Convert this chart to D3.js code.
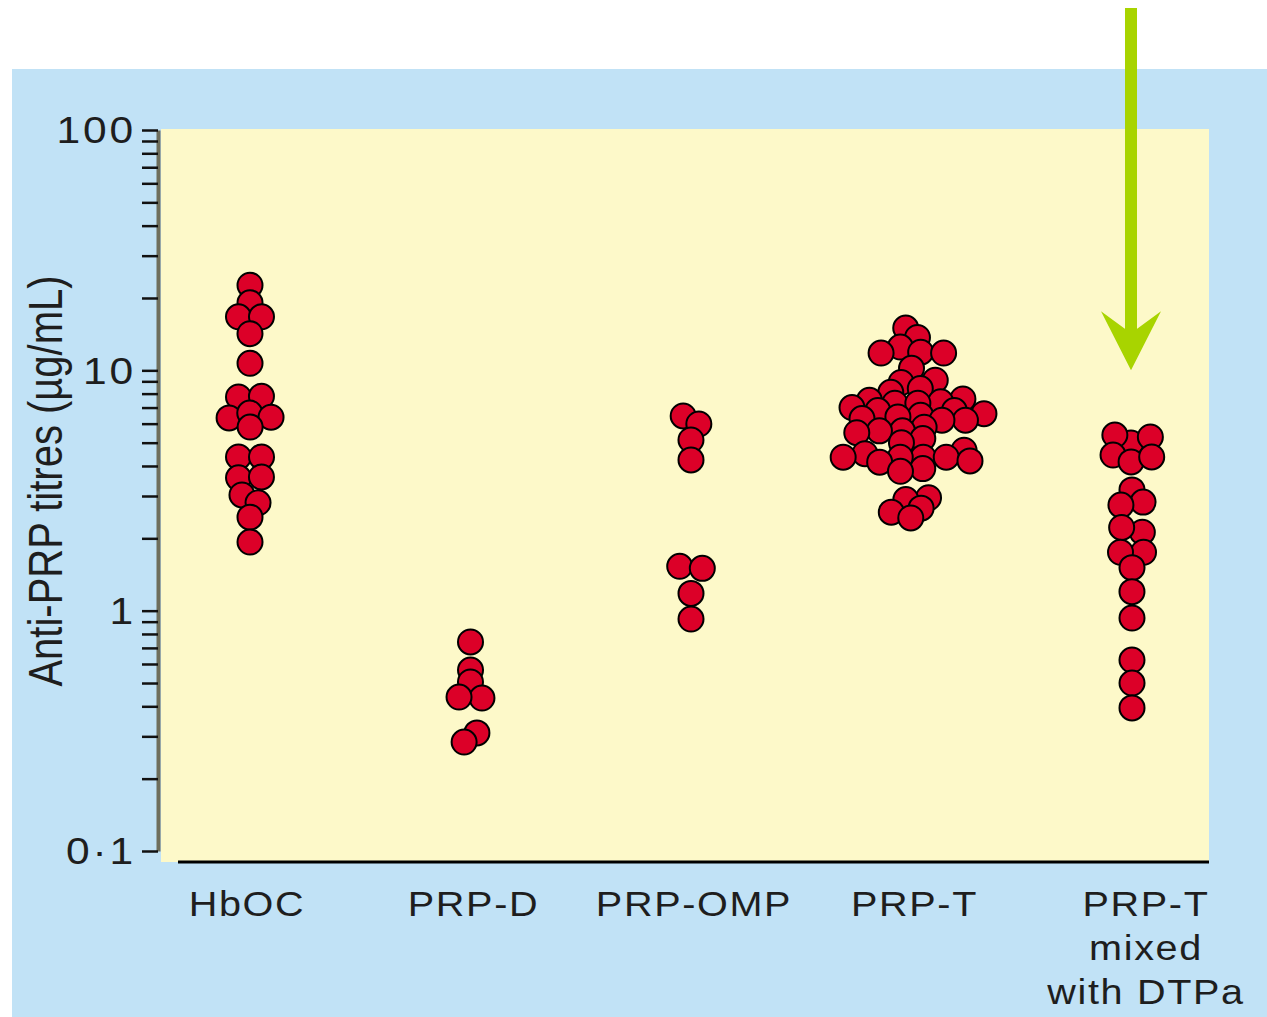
<!DOCTYPE html>
<html><head><meta charset="utf-8">
<script src="https://cdn.jsdelivr.net/npm/d3@7"></script>
<style>body{margin:0;background:#fff}svg{display:block}text{font-family:"Liberation Sans",Arial,sans-serif;fill:#1e1e1e}</style>
</head><body>
<svg id="c" width="1267" height="1017"></svg>
<script>
// ---- data ----
const categories = ["HbOC", "PRP-D", "PRP-OMP", "PRP-T", "PRP-T mixed with DTPa"];
const categoryLabelLines = [["HbOC"], ["PRP-D"], ["PRP-OMP"], ["PRP-T"], ["PRP-T", "mixed", "with DTPa"]];
const hbocValues = [22.6, 19.1, 16.7, 16.7, 14.2, 10.7, 7.75, 7.8, 6.34, 6.64, 6.38, 5.81, 4.36, 4.36, 3.57, 3.6, 3.03, 2.81, 2.45, 1.93];
const prpDValues = [0.741, 0.566, 0.505, 0.433, 0.437, 0.310, 0.284];
const prpOmpValues = [6.46, 5.98, 5.13, 4.24, 1.53, 1.50, 1.18, 0.923];
const prpTValues = [15.0, 13.7, 12.5, 11.9, 11.8, 11.8, 10.2, 9.1, 8.9, 8.4, 8.1, 7.6, 7.5, 7.4, 7.3, 7.3,
  7.0, 6.8, 6.8, 6.6, 6.5, 6.4, 6.3, 6.2, 6.2, 5.8, 5.6, 5.6, 5.5, 5.2, 5.0,
  4.65, 4.5, 4.35, 4.35, 4.35, 4.35, 4.2, 4.15, 3.9, 3.8, 2.95, 2.9, 2.67, 2.57, 2.43];
const prpTMixedValues = [4.99, 5.28, 5.38, 4.44, 4.16, 4.36, 3.18, 2.83, 2.75, 2.12, 2.22, 1.75, 1.75, 1.51, 1.20, 0.932, 0.623, 0.500, 0.394];
const seriesValues = [hbocValues, prpDValues, prpOmpValues, prpTValues, prpTMixedValues];
const tickValues = [0.1, 1, 10, 100];
const tickLabels = ["0·1", "1", "10", "100"];
const yLabel = "Anti-PRP titres (µg/mL)";

// ---- drawing ----
const svg = d3.select("#c");
svg.append("rect").attr("x", 12).attr("y", 69).attr("width", 1255).attr("height", 948).attr("fill", "#c1e2f6");
svg.append("rect").attr("x", 161).attr("y", 129).attr("width", 1048).attr("height", 733).attr("fill", "#fdf9c9");

const y = d3.scaleLog().domain([0.1, 100]).range([851, 130]);
const x = d3.scalePoint().domain(categories).range([250, 1132]);

// minor + major ticks
const allTicks = [];
for (let e = -1; e < 2; e++) for (let m = 1; m < 10; m++) allTicks.push(m * Math.pow(10, e));
allTicks.push(100);
const axis = d3.axisLeft(y).tickValues(allTicks).tickSize(16).tickSizeOuter(0).tickFormat("");
const ag = svg.append("g").attr("transform", "translate(158,0)").call(axis);
ag.select(".domain").attr("stroke", "#6e6e5c").attr("stroke-width", 4);
ag.selectAll(".tick line").attr("stroke", "#111").attr("stroke-width", 2.5);

// tick labels
svg.append("g").selectAll("text").data(tickValues).join("text")
  .attr("transform", d => `translate(136,${y(d)}) scale(1.15,1)`)
  .attr("text-anchor", "end").attr("dy", "0.36em")
  .attr("font-size", 37).attr("letter-spacing", 2.5)
  .text((d, i) => tickLabels[i]);

// bottom axis line
svg.append("line").attr("x1", 178).attr("x2", 1209).attr("y1", 862).attr("y2", 862)
  .attr("stroke", "#000").attr("stroke-width", 3);

// y label
svg.append("text").attr("transform", "translate(45,481) scale(1.18,1) rotate(-90)")
  .attr("text-anchor", "middle").attr("dy", "0.36em").attr("font-size", 40).text(yLabel);

// category labels
const cl = svg.append("g").selectAll("g").data(categories).join("g")
  .attr("transform", d => `translate(${x(d)},916)`);
cl.each(function(d, i) {
  const g = d3.select(this);
  categoryLabelLines[i].forEach((line, j) => {
    g.append("text").attr("transform", `translate(${i === 4 ? 14 : (i === 0 ? -3 : 3)},${j * 44}) scale(1.1,1)`)
      .attr("text-anchor", "middle").attr("font-size", 36).attr("letter-spacing", 1.5).text(line);
  });
});

// swarm layout via force simulation (y fixed, elliptical collision)
const RX = 23, RY = 11;
function swarm(values) {
  const k = RX / RY;
  const nodes = values.map((v, i) => ({ v, py: y(v), fy: y(v) * k, x: ((i % 2) ? 1 : -1) * (i % 3) }));
  const sim = d3.forceSimulation(nodes)
    .force("x", d3.forceX(0).strength(0.06))
    .force("c", d3.forceCollide(RX / 2).iterations(4))
    .stop();
  for (let t = 0; t < 400; t++) sim.tick();
  nodes.forEach(n => n.dx = n.x);
  return nodes;
}
const dots = [];
seriesValues.forEach((vals, i) => swarm(vals).forEach(p => dots.push({ cat: categories[i], v: p.v, py: p.py, dx: p.dx })));
svg.append("g").selectAll("circle").data(dots).join("circle")
  .attr("cx", d => x(d.cat) + d.dx).attr("cy", d => d.py).attr("r", 12.5)
  .attr("fill", "#dc0028").attr("stroke", "#000").attr("stroke-width", 2);

// arrow
const ax = 1131, ay = y(10);
svg.append("rect").attr("x", ax - 6).attr("y", 8).attr("width", 12).attr("height", ay - 40).attr("fill", "#a8d400");
svg.append("path").attr("d", `M${ax},${ay} L${ax - 30},${ay - 59} L${ax},${ay - 37} L${ax + 30},${ay - 59} Z`).attr("fill", "#a8d400");
</script>
</body></html>
